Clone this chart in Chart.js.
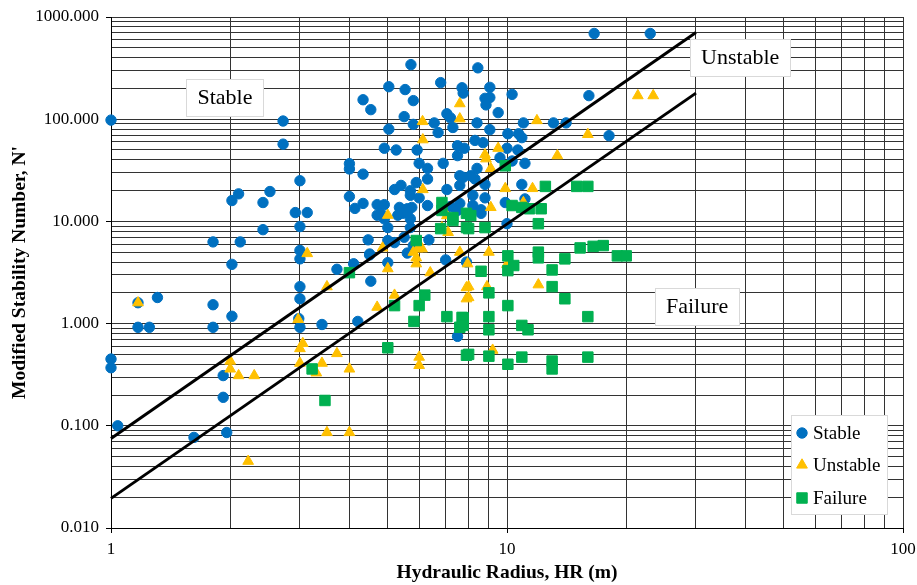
<!DOCTYPE html>
<html>
<head>
<meta charset="utf-8">
<script src="https://cdn.jsdelivr.net/npm/chart.js@4"></script>
<style>
html,body{margin:0;padding:0;background:#fff;}
</style>
</head>
<body>
<canvas id="chart" width="917" height="585"></canvas>
<script>
// [HR (m), N']
let stableData=[
    [1.0,98],[1.0,0.45],[1.0,0.37],[1.04,0.1],[1.17,0.92],[1.25,0.92],[1.17,1.6],[1.31,1.8],[1.81,1.53],[1.81,0.92],
    [2.02,3.8],[2.02,1.18],[1.92,0.31],[1.92,0.19],[1.96,0.086],[1.62,0.077],
    [2.02,16],[2.1,18.6],[2.52,19.6],[2.42,15.3],[2.92,12.2],[3.13,12.2],[3.0,25],[3.0,8.9],[2.42,8.3],[1.81,6.3],[2.12,6.3],[2.72,96],[2.72,57],
    [3.0,5.2],[3.0,4.3],[3.0,2.3],[3.0,1.75],[2.98,1.12],[3.0,0.92],[3.41,0.98],[3.72,3.4],[4.1,3.85],[4.53,2.6],[4.2,1.05],
    [5.0,3.95],[7.0,4.2],[7.9,4.0],[7.5,0.75],[5.6,4.9],[4.5,4.7],
    [4.0,36.7],[4.0,32.6],[4.33,29],[4.0,17.5],[4.33,15],[4.13,13.4],[4.46,6.6],
    [5.72,342],[8.44,318],[5.03,208],[5.53,195],[6.8,228],[4.33,155],[4.53,124],[5.8,152],[7.7,203],[7.75,180],[9.05,205],
    [8.8,160],[9.05,163],[8.85,138],[10.3,175],[9.5,116],
    [5.5,106],[5.8,89],[6.55,92],[7.05,113],[7.2,103],[7.3,83],[5.03,80],[6.7,74],[8.4,92],[11.0,92],[13.1,92],[14.1,92],
    [9.05,79],[10.05,72],[10.7,72],[10.9,66],[8.3,62],[8.7,59],
    [4.9,52],[5.25,50],[5.93,50],[7.5,55],[7.8,52],[7.5,44],[10,52],[10.65,50],[6.9,37],[6.0,37],[6.3,33],[6.3,26],
    [7.6,28],[8.1,28],[8.4,33],[11.1,37],[9.6,42],[10.3,39],
    [7.75,27],[8.3,26],[8.8,23],[10.9,23],[5.2,20.5],[5.4,22.5],[5.7,20],[5.9,24],[5.7,18],[6.0,17],[6.3,14.3],
    [7.05,20.5],[7.6,22.5],[8.2,18],[8.8,17],[11.1,16.6],[9.9,15.3],
    [4.7,14.6],[4.9,14.6],[5.35,13.7],[5.6,13.3],[5.75,13.7],[4.8,12],[4.9,10.6],[5.45,12],[5.7,10.6],
    [7.2,14],[7.5,12.8],[7.6,15],[8.2,14.3],[8.6,12],[8.6,13],
    [4.7,11.5],[5.3,11.5],[5.6,12.2],[5.0,8.7],[5.0,6.5],[5.2,6.2],[4.5,4.8],[5.7,8.7],[6.35,6.6],[5.5,7],[5.8,5.8],[10,9.5],
    [16.6,690],[23,690],[16.1,170],[18.1,69]
];

let unstableData=[
    [1.17,1.6],[2.0,0.43],[2.0,0.36],[2.1,0.31],[2.3,0.31],[2.22,0.045],
    [3.13,4.85],[3.51,2.3],[2.97,1.1],[3.05,0.64],[3.0,0.57],[3.72,0.51],[3.41,0.41],[3.3,0.33],[3.0,0.41],[4.0,0.36],[3.51,0.086],[4.0,0.086],
    [7.6,142],[7.6,101],[6.12,95],[6.13,63],[8.8,45],[6.13,20.5],[5.0,11.5],[7.05,11.4],[11.9,97],[9.5,52],[8.85,41],[9.1,33],
    [13.4,44],[9.9,21],[11.6,21],[9.1,13.7],[11.0,15.3],
    [4.85,5.5],[5.0,3.45],[5.8,5.0],[5.95,5.4],[6.1,5.4],[5.9,4.4],[5.9,3.85],[6.4,3.15],[6.85,8.7],[7.1,7.8],[7.6,5.0],
    [5.2,1.9],[4.7,1.45],[7.9,2.25],[7.9,1.75],[6.0,0.47],[6.0,0.39],
    [9.0,5.0],[7.95,3.85],[10,3.8],[12,2.4],[8.0,2.3],[8.0,1.8],[8.9,2.3],[9.2,0.55],
    [21.4,170],[23.4,170],[16,71]
];

let failureData=[
    [4.0,3.15],[3.22,0.36],[3.47,0.177],
    [6.85,15.3],[6.85,12.8],[7.3,10.9],[7.9,12],[9.9,35],[12.5,22],[15.0,22],[16.0,22],[10.3,14.3],[10.9,13.7],[11.4,13.3],[12.2,13.3],[8.1,11.4],
    [5.9,6.5],[6.8,8.5],[7.3,10.2],[7.9,8.7],[5.2,1.5],[6.2,1.9],[6.0,1.5],[5.82,1.05],[7.05,1.17],[7.7,1.15],[7.6,0.92],[7.9,0.49],[5.0,0.58],
    [8.0,8.5],[8.8,8.7],[12,9.5],[10.05,4.6],[10.05,3.3],[10.4,3.7],[8.6,3.25],[12,5.0],[12,4.4],[13,3.35],[14,4.3],[15.3,5.5],[13,2.3],
    [9.0,2.0],[10.05,1.5],[14,1.75],[9.0,1.17],[9.0,0.87],[7.75,1.14],[7.75,0.96],[10.9,0.96],[11.3,0.87],
    [8.0,0.5],[9.0,0.48],[10.9,0.47],[10.05,0.4],[13,0.43],[13,0.36],
    [16.5,5.7],[17.5,5.8],[19,4.6],[20,4.6],[16,1.17],[16,0.47]
];

// boundary lines (end points)
let upperLine=[[1,0.075],[30,705]];
let lowerLine=[[1,0.0195],[30,180]];

let seriesNames=["Stable","Unstable","Failure"];
let seriesColors=["#0070C0","#FFC000","#00B050"];
let seriesStyles=["circle","triangle","rect"];
let seriesRadius=[5.2,6.2,7.4];

// text boxes on the plot
let boxLabels=["Stable","Unstable","Failure"];
let boxX=[1.94,38.8,30.2];
let boxY=[163,401,1.47];

let xTickValues=[];
let yTickValues=[];
for(let e=0;e<2;e++){ for(let m=1;m<10;m++){ xTickValues.push(m*Math.pow(10,e)); } }
xTickValues.push(100);
for(let e=-2;e<3;e++){ for(let m=1;m<10;m++){ yTickValues.push(Number((m*Math.pow(10,e)).toPrecision(6))); } }
yTickValues.push(1000);

const FONT="'Liberation Serif','Times New Roman',serif";

function toPts(arr){
    return arr.map(p=>({x:p[0],y:p[1]}));
}

function isDecade(v){
    let l=Math.log10(v);
    return Math.abs(l-Math.round(l))<1e-9;
}

function setTicks(values){
    return function(scale){
        scale.ticks=values.map(v=>({value:v,major:isDecade(v)}));
    }
}

const textBoxes={
    id:"textBoxes",
    afterDatasetsDraw(chart){
        let ctx=chart.ctx;
        ctx.save();
        ctx.font="22px "+FONT;
        ctx.textAlign="center";
        ctx.textBaseline="middle";
        for(let i=0;i<boxLabels.length;i++){
            let cx=chart.scales.x.getPixelForValue(boxX[i]);
            let cy=chart.scales.y.getPixelForValue(boxY[i]);
            let w=ctx.measureText(boxLabels[i]).width+22;
            let h=37;
            ctx.fillStyle="#fff";
            ctx.fillRect(cx-w/2,cy-h/2,w,h);
            ctx.strokeStyle="#d9d9d9";
            ctx.lineWidth=1;
            ctx.strokeRect(Math.round(cx-w/2)+0.5,Math.round(cy-h/2)+0.5,Math.round(w),h);
            ctx.fillStyle="#000";
            ctx.fillText(boxLabels[i],cx,cy+1);
        }
        ctx.restore();
    }
};

const boxLegend={
    id:"boxLegend",
    afterDraw(chart){
        let ctx=chart.ctx;
        let area=chart.chartArea;
        let w=96,h=99;
        let x0=area.right-16-w, y0=area.bottom-14-h;
        ctx.save();
        ctx.fillStyle="#fff";
        ctx.fillRect(x0,y0,w,h);
        ctx.strokeStyle="#d9d9d9";
        ctx.lineWidth=1;
        ctx.strokeRect(Math.round(x0)+0.5,Math.round(y0)+0.5,w,h);
        ctx.font="19px "+FONT;
        ctx.textAlign="left";
        ctx.textBaseline="middle";
        let rows=[18,50,83];
        for(let i=0;i<seriesNames.length;i++){
            let y=y0+rows[i];
            ctx.fillStyle=seriesColors[i];
            ctx.strokeStyle=seriesColors[i];
            ctx.lineWidth=1;
            Chart.helpers.drawPoint(ctx,{pointStyle:seriesStyles[i],radius:seriesRadius[i],borderWidth:1,rotation:0},x0+11,y);
            ctx.fillStyle="#000";
            ctx.fillText(seriesNames[i],x0+22,y+1);
        }
        ctx.restore();
    }
};

function pointSet(i,data){
    return {
        label:seriesNames[i],
        data:toPts(data),
        pointStyle:seriesStyles[i],
        pointRadius:seriesRadius[i],
        backgroundColor:seriesColors[i],
        borderColor:seriesColors[i],
        borderWidth:1,
        clip:false
    };
}

function lineSet(data){
    return {
        label:"",
        data:toPts(data),
        showLine:true,
        borderColor:"#000",
        borderWidth:3,
        pointRadius:0,
        clip:false
    };
}

let ctx=document.getElementById("chart");

let chart=new Chart(ctx,{
    type:"scatter",
    data:{
        datasets:[
            lineSet(upperLine),
            lineSet(lowerLine),
            pointSet(2,failureData),
            pointSet(1,unstableData),
            pointSet(0,stableData)
        ]
    },
    options:{
        responsive:false,
        animation:false,
        events:[],
        layout:{padding:{top:17,right:14,left:0,bottom:0}},
        plugins:{
            legend:{display:false},
            tooltip:{enabled:false}
        },
        scales:{
            x:{
                type:"logarithmic",
                min:1,
                max:100,
                afterBuildTicks:setTicks(xTickValues),
                afterFit(scale){
                    scale.height=57;
                    scale.paddingLeft=0;
                    scale.paddingRight=0;
                },
                grid:{
                    color:"#333",
                    lineWidth:1,
                    drawTicks:true,
                    tickLength:5,
                    tickColor:c=>c.tick&&c.tick.major?"#000":"rgba(0,0,0,0)"
                },
                border:{color:"#000",width:1},
                ticks:{
                    autoSkip:false,
                    maxRotation:0,
                    padding:6,
                    color:"#000",
                    font:{family:FONT,size:17},
                    callback:(v,i,t)=>t[i].major?String(v):""
                },
                title:{
                    display:true,
                    text:"Hydraulic Radius, HR (m)",
                    color:"#000",
                    font:{family:FONT,size:19.5,weight:"bold"},
                    padding:{top:0,bottom:0}
                }
            },
            y:{
                type:"logarithmic",
                min:0.01,
                max:1000,
                afterBuildTicks:setTicks(yTickValues),
                afterFit(scale){
                    scale.width=111;
                    scale.paddingTop=0;
                    scale.paddingBottom=0;
                },
                grid:{
                    color:"#333",
                    lineWidth:1,
                    drawTicks:true,
                    tickLength:5,
                    tickColor:c=>c.tick&&c.tick.major?"#000":"rgba(0,0,0,0)"
                },
                border:{color:"#000",width:1},
                ticks:{
                    autoSkip:false,
                    padding:7,
                    color:"#000",
                    font:{family:FONT,size:17},
                    callback:(v,i,t)=>t[i].major?Number(v).toFixed(3):""
                },
                title:{
                    display:true,
                    text:"Modified Stability Number, N'",
                    color:"#000",
                    font:{family:FONT,size:19.5,weight:"bold"},
                    padding:{top:8,bottom:0}
                }
            }
        }
    },
    plugins:[textBoxes,boxLegend]
});
</script>
</body>
</html>
